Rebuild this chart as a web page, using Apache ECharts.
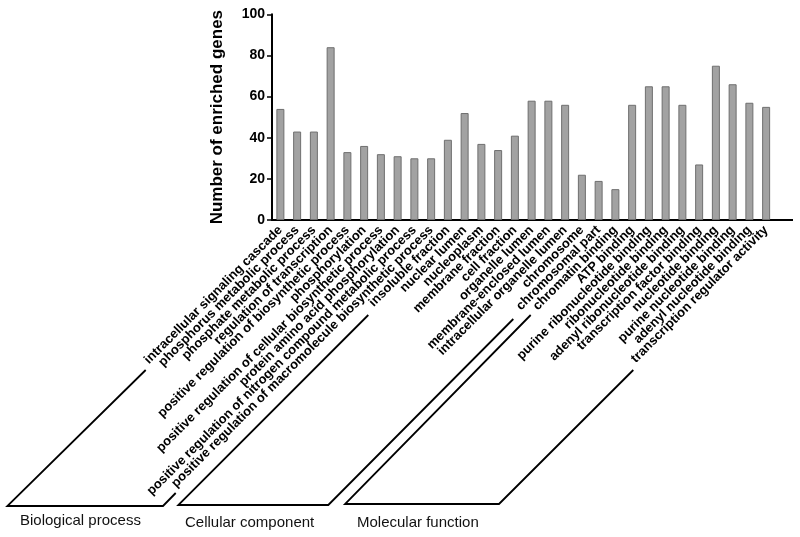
<!DOCTYPE html>
<html>
<head>
<meta charset="utf-8">
<script src="https://cdn.jsdelivr.net/npm/echarts@6/dist/echarts.min.js"></script>
<style>
html,body{margin:0;padding:0;background:#fff;}
#chart{width:800px;height:537px;}
</style>
</head>
<body>
<div id="chart"></div>
<script>
const categories = [
  "intracellular signaling cascade",
  "phosphorus metabolic process",
  "phosphate metabolic process",
  "regulation of transcription",
  "positive regulation of biosynthetic process",
  "phosphorylation",
  "positive regulation of cellular biosynthetic process",
  "protein amino acid phosphorylation",
  "positive regulation of nitrogen compound metabolic process",
  "positive regulation of macromolecule biosynthetic process",
  "insoluble fraction",
  "nuclear lumen",
  "nucleoplasm",
  "membrane fraction",
  "cell fraction",
  "organelle lumen",
  "membrane-enclosed lumen",
  "intracellular organelle lumen",
  "chromosome",
  "chromosomal part",
  "chromatin binding",
  "ATP binding",
  "purine ribonucleotide binding",
  "ribonucleotide binding",
  "adenyl ribonucleotide binding",
  "transcription factor binding",
  "nucleotide binding",
  "purine nucleotide binding",
  "adenyl nucleotide binding",
  "transcription regulator activity"
];
const geneCounts = [54, 43, 43, 84, 33, 36, 32, 31, 30, 30,
                    39, 52, 37, 34, 41, 58, 58, 56, 22, 19,
                    15, 56, 65, 65, 56, 27, 75, 66, 57, 55];
const yTicks = [0, 20, 40, 60, 80, 100];
const groupNames = ["Biological process", "Cellular component", "Molecular function"];

const FONT = "'Liberation Sans', Arial, Helvetica, sans-serif";
const chart = echarts.init(document.getElementById('chart'));

const bracketLine = {stroke: '#000', lineWidth: 1.8, fill: null, lineJoin: 'miter'};
chart.setOption({
  animation: false,
  backgroundColor: '#fff',
  grid: {left: 272, right: 25.5, top: 14.3, bottom: 317, containLabel: false},
  xAxis: {
    type: 'category',
    data: categories,
    axisLine: {lineStyle: {color: '#000', width: 2}},
    axisTick: {alignWithLabel: true, length: 5, lineStyle: {color: '#000', width: 1.5}},
    axisLabel: {
      interval: 0, rotate: 45, margin: 8,
      color: '#000', fontFamily: FONT, fontWeight: 'bold', fontSize: 13
    }
  },
  yAxis: {
    type: 'value',
    min: yTicks[0], max: yTicks[yTicks.length - 1], interval: 20,
    name: 'Number of enriched genes',
    nameLocation: 'middle', nameGap: 46,
    nameTextStyle: {color: '#000', fontFamily: FONT, fontWeight: 'bold', fontSize: 17},
    axisLine: {show: true, lineStyle: {color: '#000', width: 2}},
    axisTick: {show: true, length: 5, lineStyle: {color: '#000', width: 1.5}},
    axisLabel: {margin: 7, color: '#000', fontFamily: FONT, fontWeight: 'bold', fontSize: 14},
    splitLine: {show: false}
  },
  series: [{
    type: 'bar',
    data: geneCounts,
    barWidth: 8,
    itemStyle: {color: '#a2a2a2', borderColor: '#6f6f6f', borderWidth: 1}
  }],
  graphic: [
    {type: 'line', shape: {x1: 774, y1: 220, x2: 793, y2: 220}, style: {stroke: '#000', lineWidth: 2}},
    {type: 'polyline', shape: {points: [[145.7, 370], [7.3, 506], [163, 506], [175.7, 493]]}, style: bracketLine},
    {type: 'polyline', shape: {points: [[368.3, 315], [178.3, 505], [328.3, 505], [513.3, 319]]}, style: bracketLine},
    {type: 'polyline', shape: {points: [[530.7, 315], [345, 504], [499, 504], [633.3, 370]]}, style: bracketLine},
    {type: 'text', left: 20, top: 513, style: {text: groupNames[0], fill: '#111', font: '15px ' + FONT}},
    {type: 'text', left: 185, top: 515, style: {text: groupNames[1], fill: '#111', font: '15px ' + FONT}},
    {type: 'text', left: 357, top: 515, style: {text: groupNames[2], fill: '#111', font: '15px ' + FONT}}
  ]
});
</script>
</body>
</html>
